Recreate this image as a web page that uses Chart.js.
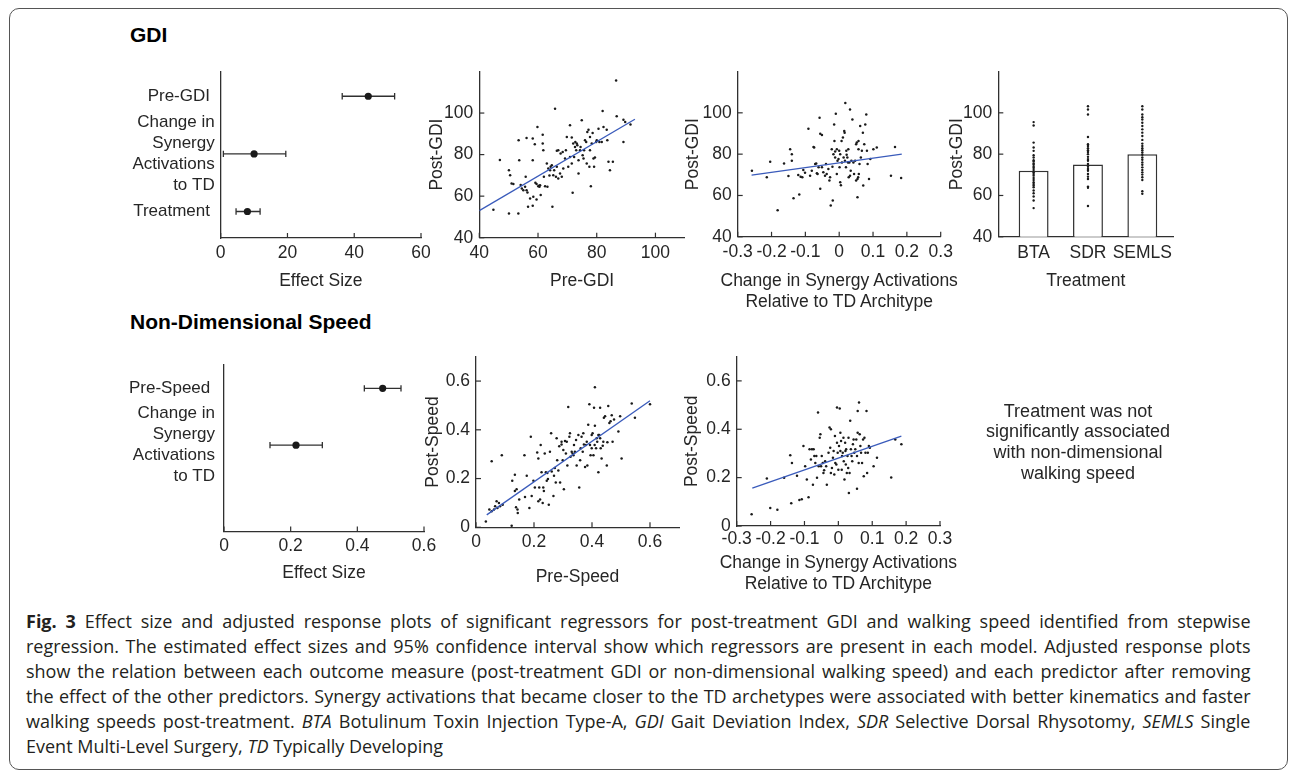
<!DOCTYPE html>
<html><head><meta charset="utf-8">
<script src="https://cdn.jsdelivr.net/npm/chart.js@4"></script>
<style>
html,body{margin:0;padding:0;background:#fff;}
body{width:1290px;height:774px;position:relative;overflow:hidden;font-family:"Liberation Sans",Arial,Helvetica,sans-serif;color:#262626;}
.frame{position:absolute;left:8.5px;top:7.5px;width:1279px;height:762px;border:1.5px solid #555;border-radius:10px;box-sizing:border-box;}
canvas{position:absolute;}
.h{position:absolute;left:130px;font-weight:bold;font-size:21px;color:#000;line-height:24px;white-space:nowrap;}
.note{position:absolute;left:928px;top:400.5px;width:300px;text-align:center;font-size:18px;line-height:20.7px;color:#262626;}
.xt{position:absolute;width:300px;text-align:center;font-size:17.5px;line-height:21px;white-space:nowrap;color:#262626;}
.cap{position:absolute;left:26px;top:608.5px;font-family:"Open Sans","Noto Sans",sans-serif;font-size:18px;line-height:25px;color:#231f20;}
.cap div{transform-origin:0 0;height:25px;}
.cap span{white-space:nowrap;}
</style>
</head>
<body>
<div class="frame"></div>
<div class="h" style="top:22.5px">GDI</div>
<div class="h" style="top:310px">Non-Dimensional Speed</div>
<canvas id="cA"></canvas>
<canvas id="cB"></canvas>
<canvas id="cC"></canvas>
<canvas id="cD"></canvas>
<canvas id="cE"></canvas>
<canvas id="cF"></canvas>
<canvas id="cG"></canvas>
<div class="xt" style="left:689.2px;top:269.5px">Change in Synergy Activations<br>Relative to TD Architype</div>
<div class="xt" style="left:688.4px;top:551.5px">Change in Synergy Activations<br>Relative to TD Architype</div>
<div class="note">Treatment was not<br>significantly associated<br>with non-dimensional<br>walking speed</div>
<div class="cap">
<div><span><b>Fig. 3</b> Effect size and adjusted response plots of significant regressors for post-treatment GDI and walking speed identified from stepwise</span></div>
<div><span>regression. The estimated effect sizes and 95% confidence interval show which regressors are present in each model. Adjusted response plots</span></div>
<div><span>show the relation between each outcome measure (post-treatment GDI or non-dimensional walking speed) and each predictor after removing</span></div>
<div><span>the effect of the other predictors. Synergy activations that became closer to the TD archetypes were associated with better kinematics and faster</span></div>
<div><span>walking speeds post-treatment. <i>BTA</i> Botulinum Toxin Injection Type-A, <i>GDI</i> Gait Deviation Index, <i>SDR</i> Selective Dorsal Rhysotomy, <i>SEMLS</i> Single</span></div>
<div><span>Event Multi-Level Surgery, <i>TD</i> Typically Developing</span></div>
</div>
<script>
// ---------------- DATA ----------------
const gdiRegressors = ['Pre-GDI ', ['Change in', 'Synergy', 'Activations', 'to TD'], 'Treatment '];
const gdiEffect = [44.2, 10.0, 8.0];
const gdiCiLow = [36.4, 0.8, 4.6];
const gdiCiHigh = [52.1, 19.5, 11.8];

const speedRegressors = ['Pre-Speed ', ['Change in', 'Synergy', 'Activations', 'to TD'], ''];
const speedEffect = [0.476, 0.216];
const speedCiLow = [0.421, 0.138];
const speedCiHigh = [0.531, 0.295];

const forestGdiTicks = [0, 20, 40, 60];
const forestSpeedTicks = [0, 0.2, 0.4, 0.6];
const gdiTicks = [40, 60, 80, 100];
const synergyTicks = [-0.3, -0.2, -0.1, 0, 0.1, 0.2, 0.3];
const speedTicks = [0, 0.2, 0.4, 0.6];

// Pre-GDI vs Post-GDI (adjusted)
const preGdiPoints = [[44.8,53.4],[47.0,77.4],[50.1,72.5],[50.1,51.7],[50.5,70.1],[51.0,66.1],[51.6,65.8],[53.3,51.7],[53.4,86.9],[53.6,77.3],[54.1,65.4],[54.5,63.7],[55.0,62.9],[55.6,64.5],[55.8,69.3],[56.1,88.0],[56.1,62.9],[56.4,61.8],[56.6,54.9],[57.3,58.9],[58.2,87.7],[58.2,77.3],[58.2,55.4],[58.4,59.7],[58.9,85.0],[59.1,66.4],[59.5,58.4],[59.5,65.8],[59.8,93.3],[60.1,64.8],[60.3,65.0],[60.5,64.5],[60.7,65.3],[60.9,60.5],[61.6,89.6],[61.6,85.3],[61.8,82.1],[62.0,69.3],[62.4,64.8],[63.0,75.7],[63.2,64.5],[63.5,73.3],[63.9,69.9],[64.1,72.5],[64.3,74.1],[64.7,74.9],[64.9,54.9],[65.2,70.1],[65.5,72.5],[65.8,102.1],[66.1,69.3],[66.4,74.1],[66.4,81.8],[66.9,68.5],[66.9,82.1],[67.5,70.9],[67.7,80.5],[68.1,69.3],[68.4,81.3],[68.6,73.3],[69.2,78.1],[69.5,82.1],[69.8,88.5],[70.3,74.1],[70.9,94.1],[70.9,78.9],[71.5,75.7],[71.5,88.2],[71.8,61.6],[72.0,85.3],[72.3,78.9],[72.6,83.7],[72.7,86.1],[73.0,82.1],[73.2,85.3],[73.4,84.5],[73.8,77.3],[73.8,70.9],[74.3,82.1],[74.5,83.7],[74.9,96.5],[75.2,79.7],[75.5,78.1],[75.7,82.1],[76.0,86.9],[76.4,86.1],[76.6,75.7],[76.8,90.9],[77.2,92.0],[77.5,74.1],[77.7,88.5],[77.7,82.1],[78.0,64.8],[78.3,85.3],[78.6,90.4],[78.9,78.1],[79.1,74.1],[79.4,78.6],[79.8,86.1],[80.0,86.9],[80.6,92.5],[80.9,86.1],[81.7,86.1],[82.0,101.0],[82.3,93.3],[83.4,92.0],[83.6,86.9],[84.0,76.5],[84.5,72.5],[85.5,76.5],[86.6,115.7],[86.8,98.4],[89.1,96.8],[89.1,86.1],[89.7,95.7],[91.5,94.5]];
const preGdiFit = [[40, 53.0], [93, 97.0]];

// Change in synergy activations vs Post-GDI (adjusted)
const synGdiPoints = [[-0.258,72.0],[-0.214,68.8],[-0.204,76.3],[-0.182,52.8],[-0.163,75.5],[-0.150,69.4],[-0.145,82.4],[-0.140,80.0],[-0.140,76.8],[-0.135,58.7],[-0.121,69.9],[-0.118,60.5],[-0.114,69.1],[-0.109,68.8],[-0.106,72.3],[-0.101,71.0],[-0.091,92.3],[-0.086,69.6],[-0.081,72.0],[-0.076,83.5],[-0.074,83.2],[-0.071,75.2],[-0.068,75.5],[-0.066,70.7],[-0.064,70.4],[-0.061,73.6],[-0.058,97.6],[-0.056,63.2],[-0.056,89.9],[-0.051,89.3],[-0.051,73.6],[-0.047,71.2],[-0.042,69.6],[-0.039,75.2],[-0.037,70.4],[-0.032,72.8],[-0.029,67.2],[-0.027,68.8],[-0.025,55.2],[-0.022,82.4],[-0.020,73.9],[-0.019,57.6],[-0.017,80.0],[-0.015,94.4],[-0.014,86.4],[-0.012,81.3],[-0.012,78.4],[-0.010,99.5],[-0.007,82.4],[-0.007,70.4],[-0.005,76.8],[-0.002,77.6],[0.000,81.6],[0.001,73.6],[0.003,66.4],[0.003,80.0],[0.005,65.0],[0.007,86.4],[0.008,76.0],[0.011,88.0],[0.013,78.4],[0.015,91.2],[0.016,90.4],[0.017,76.8],[0.018,104.8],[0.020,73.6],[0.021,81.6],[0.022,79.7],[0.024,78.4],[0.026,76.0],[0.027,82.4],[0.028,68.8],[0.030,76.0],[0.032,101.6],[0.032,69.6],[0.034,72.0],[0.036,76.8],[0.039,96.8],[0.042,76.0],[0.044,70.4],[0.047,76.8],[0.050,84.8],[0.050,67.2],[0.052,85.6],[0.054,68.0],[0.054,59.2],[0.056,68.8],[0.057,82.4],[0.057,86.4],[0.058,70.4],[0.060,75.2],[0.062,93.6],[0.064,78.4],[0.067,81.6],[0.070,90.4],[0.071,64.8],[0.074,84.8],[0.077,94.4],[0.080,99.2],[0.082,81.6],[0.084,75.2],[0.088,68.0],[0.092,77.6],[0.101,82.4],[0.111,83.2],[0.153,69.6],[0.165,83.5],[0.183,68.5]];
const synGdiFit = [[-0.259, 69.9], [0.185, 80.0]];

// Treatment vs Post-GDI
const treatmentLabels = ['BTA', 'SDR', 'SEMLS'];
const treatmentMeans = [72, 75, 80];
const btaPostGdi = [95.5,93.9,85.6,83.2,81.6,79.5,78.4,77.1,76.5,75.5,74.9,73.9,73.3,72.3,71.2,70.4,69.6,68.5,67.5,66.4,65.6,64.8,64.0,62.4,61.1,59.5,57.6,53.9];
const sdrPostGdi = [103.2,101.6,99.2,88.3,84.8,84.0,82.9,81.9,81.1,80.0,78.7,77.6,76.8,75.2,73.9,72.8,72.0,70.4,69.1,68.0,64.3,63.7,54.9];
const semlsPostGdi = [103.2,101.6,99.2,97.9,96.8,95.2,93.6,92.0,90.4,88.8,86.9,85.1,84.0,82.9,81.9,80.8,79.7,78.4,77.3,76.0,74.9,73.6,72.3,71.2,70.1,68.8,67.5,62.1,60.8];

// Pre-Speed vs Post-Speed (adjusted)
const preSpeedPoints = [[0.034,0.024],[0.046,0.073],[0.054,0.271],[0.054,0.066],[0.062,0.073],[0.066,0.086],[0.071,0.107],[0.074,0.079],[0.079,0.100],[0.083,0.086],[0.089,0.296],[0.092,0.093],[0.123,0.006],[0.125,0.191],[0.134,0.216],[0.134,0.149],[0.138,0.082],[0.140,0.156],[0.143,0.073],[0.144,0.059],[0.149,0.114],[0.167,0.296],[0.169,0.124],[0.175,0.212],[0.184,0.079],[0.189,0.372],[0.192,0.128],[0.198,0.191],[0.203,0.163],[0.211,0.307],[0.215,0.282],[0.215,0.107],[0.218,0.163],[0.221,0.114],[0.223,0.338],[0.226,0.226],[0.230,0.100],[0.232,0.163],[0.234,0.149],[0.237,0.303],[0.241,0.226],[0.244,0.191],[0.246,0.223],[0.248,0.198],[0.251,0.093],[0.255,0.310],[0.259,0.386],[0.261,0.229],[0.267,0.128],[0.269,0.212],[0.272,0.243],[0.275,0.184],[0.278,0.365],[0.280,0.275],[0.284,0.233],[0.287,0.333],[0.290,0.184],[0.295,0.340],[0.295,0.351],[0.299,0.275],[0.301,0.317],[0.303,0.156],[0.307,0.354],[0.310,0.303],[0.313,0.351],[0.315,0.254],[0.318,0.494],[0.322,0.372],[0.324,0.386],[0.326,0.289],[0.330,0.310],[0.333,0.303],[0.336,0.296],[0.338,0.338],[0.341,0.310],[0.345,0.358],[0.347,0.254],[0.353,0.379],[0.356,0.163],[0.359,0.275],[0.361,0.324],[0.364,0.372],[0.368,0.310],[0.370,0.386],[0.372,0.340],[0.376,0.247],[0.379,0.338],[0.382,0.351],[0.384,0.254],[0.387,0.421],[0.391,0.505],[0.393,0.338],[0.395,0.296],[0.399,0.379],[0.399,0.324],[0.402,0.386],[0.405,0.296],[0.407,0.491],[0.409,0.338],[0.410,0.417],[0.410,0.575],[0.414,0.324],[0.416,0.365],[0.418,0.351],[0.422,0.226],[0.422,0.379],[0.425,0.379],[0.428,0.491],[0.428,0.365],[0.430,0.324],[0.433,0.282],[0.437,0.335],[0.439,0.351],[0.441,0.449],[0.445,0.456],[0.451,0.254],[0.453,0.349],[0.456,0.498],[0.460,0.428],[0.464,0.435],[0.468,0.460],[0.471,0.351],[0.476,0.442],[0.491,0.393],[0.497,0.456],[0.502,0.282],[0.537,0.508],[0.548,0.449],[0.600,0.505]];
const preSpeedFit = [[0.037, 0.051], [0.600, 0.519]];

// Change in synergy activations vs Post-Speed (adjusted)
const synSpeedPoints = [[-0.256,0.049],[-0.211,0.196],[-0.201,0.074],[-0.180,0.067],[-0.160,0.199],[-0.142,0.293],[-0.139,0.094],[-0.137,0.261],[-0.122,0.208],[-0.115,0.108],[-0.108,0.111],[-0.103,0.331],[-0.098,0.247],[-0.093,0.192],[-0.088,0.119],[-0.085,0.317],[-0.081,0.275],[-0.078,0.317],[-0.075,0.171],[-0.073,0.317],[-0.071,0.289],[-0.068,0.261],[-0.065,0.289],[-0.063,0.199],[-0.060,0.469],[-0.058,0.247],[-0.055,0.365],[-0.053,0.379],[-0.051,0.247],[-0.049,0.289],[-0.046,0.261],[-0.044,0.219],[-0.042,0.231],[-0.039,0.268],[-0.036,0.247],[-0.034,0.171],[-0.029,0.303],[-0.026,0.407],[-0.024,0.324],[-0.022,0.400],[-0.022,0.219],[-0.019,0.240],[-0.016,0.282],[-0.014,0.310],[-0.012,0.213],[-0.010,0.372],[-0.009,0.261],[-0.006,0.254],[-0.004,0.344],[-0.004,0.490],[-0.002,0.303],[0.000,0.233],[0.002,0.331],[0.004,0.486],[0.006,0.310],[0.006,0.386],[0.008,0.351],[0.010,0.233],[0.011,0.289],[0.013,0.303],[0.015,0.365],[0.016,0.268],[0.018,0.192],[0.020,0.344],[0.021,0.310],[0.022,0.254],[0.023,0.317],[0.025,0.219],[0.027,0.289],[0.029,0.240],[0.030,0.365],[0.031,0.136],[0.033,0.219],[0.035,0.435],[0.037,0.317],[0.039,0.289],[0.041,0.268],[0.043,0.338],[0.045,0.358],[0.047,0.303],[0.050,0.317],[0.053,0.358],[0.055,0.289],[0.055,0.154],[0.057,0.476],[0.057,0.386],[0.060,0.261],[0.061,0.511],[0.063,0.379],[0.065,0.331],[0.067,0.303],[0.070,0.261],[0.073,0.358],[0.075,0.206],[0.077,0.365],[0.080,0.303],[0.083,0.476],[0.085,0.219],[0.087,0.303],[0.090,0.331],[0.093,0.324],[0.104,0.247],[0.114,0.282],[0.156,0.201],[0.168,0.358],[0.186,0.338]];
const synSpeedFit = [[-0.254, 0.157], [0.186, 0.372]];

// ---------------- STYLE / HELPERS ----------------
const FF = '"Liberation Sans", Arial, Helvetica, sans-serif';
const AX = '#303030', TXT = '#262626', DOT = '#1a1a1a', FIT = '#3a5bbb';
const TICK_FONT = {family: FF, size: 17.5, lineHeight: 1.2};
const LAB_FONT = {family: FF, size: 17.5, lineHeight: 1.2};
const CAT_FONT = {family: FF, size: 17, lineHeight: 1.235};
Chart.defaults.font.family = FF;
Chart.defaults.color = TXT;

const fmt = v => String(Math.round(v * 1000) / 1000);
const fixedTicks = arr => s => { s.ticks = arr.map(v => ({value: v})); };
const pts = arr => arr.map(([x, y]) => ({x, y}));

const inTicks = {
  id: 'inTicks',
  afterDraw(chart, args, opts) {
    if (!opts || !opts.axes) return;
    const ctx = chart.ctx, a = chart.chartArea, L = opts.len || 5;
    ctx.save(); ctx.strokeStyle = AX; ctx.lineWidth = 1.2;
    opts.axes.forEach(id => {
      const s = chart.scales[id];
      s.ticks.forEach(t => {
        const p = s.getPixelForValue(t.value);
        ctx.beginPath();
        if (s.isHorizontal()) { ctx.moveTo(p, a.bottom); ctx.lineTo(p, a.bottom - L); }
        else { ctx.moveTo(a.left, p); ctx.lineTo(a.left + L, p); }
        ctx.stroke();
      });
    });
    ctx.restore();
  }
};
Chart.register(inTicks);

function axis(pos, min, max, tickVals, tickCb, tickPad, title, titlePad, font) {
  return {
    type: 'linear', position: pos, min, max, offset: false,
    grid: {display: false, drawTicks: false, offset: false},
    border: {display: true, color: AX, width: 1.3},
    afterBuildTicks: fixedTicks(tickVals),
    ticks: {color: TXT, font: font || TICK_FONT, padding: tickPad, maxRotation: 0, autoSkip: false, callback: tickCb || fmt},
    title: {display: !!title, text: title || '', color: TXT, font: LAB_FONT, padding: {top: titlePad || 0, bottom: titlePad || 0}}
  };
}

function makeChart(id, box, area, cfg, tickAxes) {
  const c = document.getElementById(id);
  c.width = box.w; c.height = box.h;
  Object.assign(c.style, {left: box.x + 'px', top: box.y + 'px', width: box.w + 'px', height: box.h + 'px'});
  const yw = area.l - box.x, xh = box.y + box.h - area.b;
  cfg.options = Object.assign({
    responsive: false, maintainAspectRatio: false, animation: false, events: [],
    devicePixelRatio: 1
  }, cfg.options);
  cfg.options.layout = {padding: {left: 0, bottom: 0, top: area.t - box.y, right: box.x + box.w - area.r}};
  cfg.options.scales.x.afterFit = s => { s.height = xh; };
  cfg.options.scales.y.afterFit = s => { s.width = yw; };
  cfg.options.plugins = {legend: {display: false}, tooltip: {enabled: false}, title: {display: false},
    inTicks: {axes: tickAxes, len: 5}};
  return new Chart(c, cfg);
}

function forestDatasets(effect, lo, hi) {
  const ds = [{
    type: 'scatter', data: effect.map((v, i) => ({x: v, y: i + 1})),
    pointRadius: 3.6, pointBackgroundColor: '#1a1a1a', pointBorderWidth: 0
  }];
  effect.forEach((v, i) => {
    ds.push({
      type: 'scatter', showLine: true, data: [{x: lo[i], y: i + 1}, {x: hi[i], y: i + 1}],
      borderColor: AX, borderWidth: 1.3, pointStyle: 'line', pointRotation: 90,
      pointRadius: 3.2, pointBorderColor: AX, pointBorderWidth: 1.3
    });
  });
  return ds;
}

function scatterDatasets(points, fit) {
  return [
    {type: 'scatter', showLine: true, data: pts(fit), borderColor: FIT, borderWidth: 1.3, pointRadius: 0},
    {type: 'scatter', data: pts(points), pointRadius: 1.25, pointBackgroundColor: DOT, pointBorderWidth: 0}
  ];
}

// ---------------- CHARTS ----------------
// A: GDI effect sizes
makeChart('cA', {x: 100, y: 55, w: 340, h: 245}, {l: 220.7, t: 69, r: 421, b: 238}, {
  type: 'scatter',
  data: {datasets: forestDatasets(gdiEffect, gdiCiLow, gdiCiHigh)},
  options: {scales: {
    x: axis('bottom', 0, 60, forestGdiTicks, null, 4.2, 'Effect Size', 8.5),
    y: Object.assign(axis('left', 0.57, 3.46, [1, 2, 3], v => gdiRegressors[Math.round(v) - 1], 6, null, 0, CAT_FONT), {reverse: true})
  }}
}, ['x']);

// B: Pre-GDI vs Post-GDI
makeChart('cB', {x: 420, y: 55, w: 290, h: 245}, {l: 479.3, t: 70, r: 684.8, b: 237.7}, {
  type: 'scatter',
  data: {datasets: scatterDatasets(preGdiPoints, preGdiFit)},
  options: {scales: {
    x: axis('bottom', 40, 110, gdiTicks, null, 4.5, 'Pre-GDI', 8.5),
    y: axis('left', 40, 120, gdiTicks, null, 6, 'Post-GDI', 6.2)
  }}
}, ['x', 'y']);

// C: Change in synergy vs Post-GDI (x title drawn as HTML text, it is wider than the axis)
makeChart('cC', {x: 680, y: 55, w: 280, h: 245}, {l: 737.7, t: 70, r: 940.7, b: 236.8}, {
  type: 'scatter',
  data: {datasets: scatterDatasets(synGdiPoints, synGdiFit)},
  options: {scales: {
    x: axis('bottom', -0.3, 0.3, synergyTicks, null, 5, null, 0),
    y: axis('left', 40, 120, gdiTicks, null, 6, 'Post-GDI', 2.8)
  }}
}, ['x', 'y']);

// D: Treatment vs Post-GDI
makeChart('cD', {x: 940, y: 55, w: 250, h: 245}, {l: 998.3, t: 70, r: 1173.3, b: 236.8}, {
  type: 'bar',
  data: {datasets: [
    {type: 'scatter', order: 0, data: [].concat(
        btaPostGdi.map(y => ({x: 1, y})), sdrPostGdi.map(y => ({x: 2, y})), semlsPostGdi.map(y => ({x: 3, y}))),
      pointRadius: 1.2, pointBackgroundColor: DOT, pointBorderWidth: 0},
    {type: 'bar', order: 1, data: treatmentMeans.map((y, i) => ({x: i + 1, y})),
      backgroundColor: '#ffffff', borderColor: '#333333', borderWidth: 1.5, borderSkipped: false,
      categoryPercentage: 1, barPercentage: 0.55}
  ]},
  options: {scales: {
    x: axis('bottom', 0.35, 3.57, [1, 2, 3], v => treatmentLabels[Math.round(v) - 1], 5.5, 'Treatment', 8.5),
    y: axis('left', 40, 120, gdiTicks, null, 6, 'Post-GDI', 6.2)
  }}
}, ['y']);

// E: Speed effect sizes
makeChart('cE', {x: 100, y: 345, w: 340, h: 245}, {l: 224, t: 362.7, r: 424, b: 531.5}, {
  type: 'scatter',
  data: {datasets: forestDatasets(speedEffect, speedCiLow, speedCiHigh)},
  options: {scales: {
    x: axis('bottom', 0, 0.6, forestSpeedTicks, null, 3.7, 'Effect Size', 6.5),
    y: Object.assign(axis('left', 0.58, 3.52, [1, 2, 3], v => speedRegressors[Math.round(v) - 1], 9, null, 0, CAT_FONT), {reverse: true})
  }}
}, ['x']);

// F: Pre-Speed vs Post-Speed
makeChart('cF', {x: 420, y: 340, w: 290, h: 250}, {l: 476, t: 356.7, r: 679, b: 527.3}, {
  type: 'scatter',
  data: {datasets: scatterDatasets(preSpeedPoints, preSpeedFit)},
  options: {scales: {
    x: axis('bottom', 0, 0.7, speedTicks, null, 3.9, 'Pre-Speed', 2.5),
    y: axis('left', 0, 0.7, speedTicks, null, 6, 'Post-Speed', 2.8)
  }}
}, ['x', 'y']);

// G: Change in synergy vs Post-Speed (x title drawn as HTML text)
makeChart('cG', {x: 680, y: 340, w: 280, h: 250}, {l: 736.7, t: 356.7, r: 940, b: 526}, {
  type: 'scatter',
  data: {datasets: scatterDatasets(synSpeedPoints, synSpeedFit)},
  options: {scales: {
    x: axis('bottom', -0.3, 0.3, synergyTicks, null, 2.5, null, 0),
    y: axis('left', 0, 0.7, speedTicks, null, 6, 'Post-Speed', 1.2)
  }}
}, ['x', 'y']);

// ---------------- CAPTION FIT ----------------
(function () {
  const W = 1224;
  const rows = Array.from(document.querySelectorAll('.cap div'));
  let maxW = 0;
  rows.forEach(d => { maxW = Math.max(maxW, d.firstElementChild.getBoundingClientRect().width); });
  const k = Math.min(1, W / maxW);
  rows.forEach((d, i) => {
    d.style.transform = 'scaleX(' + k + ')';
    if (i < rows.length - 1) {
      d.firstElementChild.style.whiteSpace = 'normal';
      d.style.width = (W / k + 0.5) + 'px';
      d.style.textAlign = 'justify';
      d.style.textAlignLast = 'justify';
    }
  });
})();
</script>
</body>
</html>
